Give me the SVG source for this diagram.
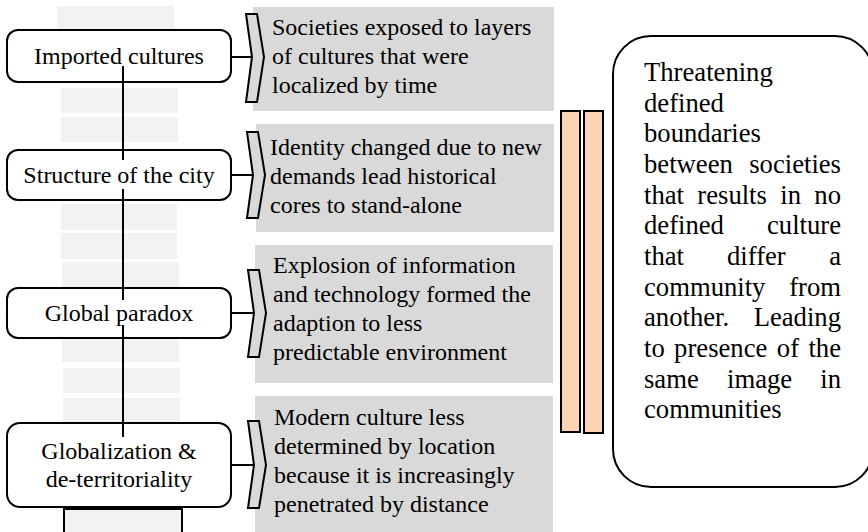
<svg xmlns="http://www.w3.org/2000/svg" width="868" height="532" viewBox="0 0 868 532">
<style>
.strip{fill:#f2f2f2}
.panel{fill:#d9d9d9}
.node{fill:#ffffff;stroke:#000;stroke-width:2}
.brk{fill:#d9d9d9;stroke:#000;stroke-width:2;stroke-linejoin:miter}
.bar{fill:#fbd4b4;stroke:#000;stroke-width:2}
.big{fill:#ffffff;stroke:#000;stroke-width:2}
.conn{stroke:#000;stroke-width:2;fill:none}
.t{font-family:"Liberation Serif","Times New Roman",serif;font-size:24px;fill:#000}
.tc{text-anchor:middle}
.r{font-family:"Liberation Serif","Times New Roman",serif;font-size:26.67px;fill:#000}
</style>
<rect width="868" height="532" fill="#ffffff"/>
<g id="strip">
<rect class="strip" x="57" y="6" width="117" height="74"/>
<rect class="strip" x="61" y="88" width="117" height="25"/>
<rect class="strip" x="61" y="117" width="117" height="25"/>
<rect class="strip" x="61" y="204" width="116" height="26"/>
<rect class="strip" x="61" y="233" width="116" height="26"/>
<rect class="strip" x="62" y="262" width="117" height="100"/>
<rect class="strip" x="63" y="368" width="117" height="25"/>
<rect class="strip" x="63" y="398" width="117" height="30"/>
<rect x="64" y="509" width="118" height="40" fill="#f2f2f2" stroke="#000" stroke-width="2"/>
</g>
<g id="panels">
<rect class="panel" x="253" y="7" width="301" height="104"/>
<rect class="panel" x="256" y="124" width="298" height="108"/>
<rect class="panel" x="255" y="245" width="298" height="138"/>
<rect class="panel" x="255" y="396" width="298" height="140"/>
</g>
<g id="node-imported">
<rect class="node" x="7" y="30" width="224" height="52" rx="11"/>
<text class="t tc" x="119" y="64">Imported cultures</text>
</g>
<g id="node-structure">
<rect class="node" x="7" y="150" width="224" height="50" rx="11"/>
<text class="t tc" x="119" y="183">Structure of the city</text>
</g>
<g id="node-paradox">
<rect class="node" x="7" y="288" width="224" height="50" rx="11"/>
<text class="t tc" x="119" y="321">Global paradox</text>
</g>
<g id="node-globalization">
<rect class="node" x="7" y="423" width="224" height="84" rx="13"/>
<text class="t tc" x="119" y="459">Globalization &amp;</text>
<text class="t tc" x="119" y="487">de-territoriality</text>
</g>
<g id="connectors">
<line class="conn" x1="123" y1="66" x2="123" y2="160"/>
<line class="conn" x1="123" y1="189" x2="123" y2="300"/>
<line class="conn" x1="123" y1="325" x2="123" y2="437"/>
<line class="conn" x1="231" y1="57" x2="252" y2="57"/>
<line class="conn" x1="231" y1="175" x2="253" y2="175"/>
<line class="conn" x1="231" y1="313" x2="254" y2="313"/>
<line class="conn" x1="231" y1="465" x2="254" y2="465"/>
</g>
<g id="bracket-1"><polygon class="brk" points="246,14 257,14 264,57 257,102 246,102 252,57"/></g>
<g id="bracket-2"><polygon class="brk" points="247,132 258,132 265,175 258,218 247,218 253,175"/></g>
<g id="bracket-3"><polygon class="brk" points="248,270 259,270 266,313 259,357 248,357 254,313"/></g>
<g id="bracket-4"><polygon class="brk" points="248,421 259,421 266,465 259,508 248,508 254,465"/></g>
<g id="text-1">
<text class="t" x="272" y="35">Societies exposed to layers</text>
<text class="t" x="272" y="64">of cultures that were</text>
<text class="t" x="272" y="93">localized by time</text>
</g>
<g id="text-2">
<text class="t" x="270" y="155">Identity changed due to new</text>
<text class="t" x="270" y="184">demands lead historical</text>
<text class="t" x="270" y="213">cores to stand-alone</text>
</g>
<g id="text-3">
<text class="t" x="273" y="273">Explosion of information</text>
<text class="t" x="273" y="302">and technology formed the</text>
<text class="t" x="273" y="331">adaption to less</text>
<text class="t" x="273" y="360">predictable environment</text>
</g>
<g id="text-4">
<text class="t" x="274" y="425">Modern culture less</text>
<text class="t" x="274" y="454">determined by location</text>
<text class="t" x="274" y="483">because it is increasingly</text>
<text class="t" x="274" y="512">penetrated by distance</text>
</g>
<g id="bars">
<rect class="bar" x="561" y="111" width="19" height="321"/>
<rect class="bar" x="584" y="111" width="19" height="322"/>
</g>
<g id="summary">
<rect class="big" x="613" y="36" width="260" height="451" rx="38"/>
<text class="r" x="644" y="81">Threatening</text>
<text class="r" x="644" y="111.7">defined</text>
<text class="r" x="644" y="142.3">boundaries</text>
<text class="r" y="173"><tspan x="644">between</tspan><tspan x="841" text-anchor="end">societies</tspan></text>
<text class="r" y="203.7"><tspan x="644">that</tspan><tspan x="697.3">results</tspan><tspan x="780.3">in</tspan><tspan x="841" text-anchor="end">no</tspan></text>
<text class="r" y="234.3"><tspan x="644">defined</tspan><tspan x="841" text-anchor="end">culture</tspan></text>
<text class="r" y="265"><tspan x="644">that</tspan><tspan x="727">differ</tspan><tspan x="841" text-anchor="end">a</tspan></text>
<text class="r" y="295.7"><tspan x="644">community</tspan><tspan x="841" text-anchor="end">from</tspan></text>
<text class="r" y="326.3"><tspan x="644">another.</tspan><tspan x="841" text-anchor="end">Leading</tspan></text>
<text class="r" y="357"><tspan x="644">to</tspan><tspan x="674.1">presence</tspan><tspan x="776.8">of</tspan><tspan x="841" text-anchor="end">the</tspan></text>
<text class="r" y="387.7"><tspan x="644">same</tspan><tspan x="727">image</tspan><tspan x="841" text-anchor="end">in</tspan></text>
<text class="r" x="644" y="418.3">communities</text>
</g>
</svg>
